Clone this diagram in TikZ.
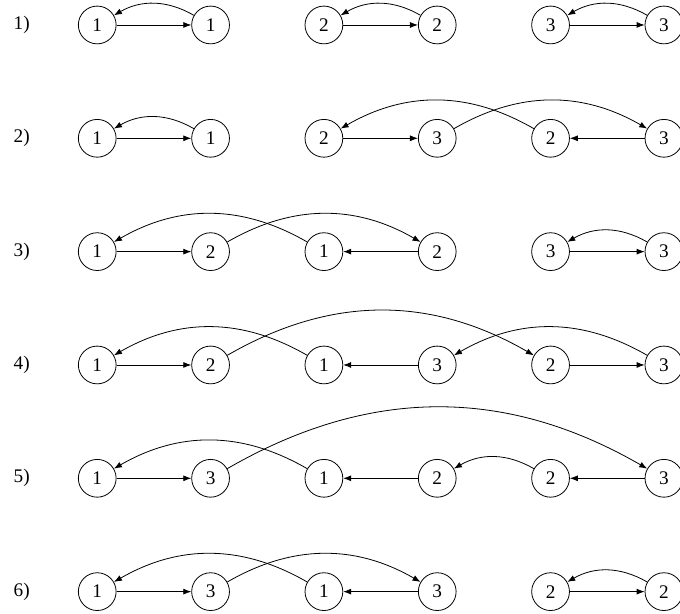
\documentclass[tikz,border=0pt]{standalone}
\usepackage{fontspec}
\setmainfont{Liberation Serif}
\usetikzlibrary{arrows.meta}

\begin{document}
\begin{tikzpicture}
	
	\tikzset{vertex/.style = {shape=circle,draw,line width=0.6pt,minimum size=1cm,inner sep=0pt,font=\fontsize{14.5}{17}\selectfont}}
	\tikzset{rowlabel/.style = {font=\fontsize{14.5}{17}\selectfont}}
	\tikzset{edge/.style = {-{Latex[length=6pt,width=4.5pt]},line width=0.6pt}}
	
	\useasboundingbox (-2.574,0.661) rectangle (15.426,-15.58);
	
	% row 1
	\node[rowlabel] (l1) at (-2,0) {1)};
	\node[vertex] (a1) at  (0,0) {1};
	\node[vertex] (a2) at  (3,0) {1};
	\node[vertex] (a3) at  (6,0) {2};
	\node[vertex] (a4) at  (9,0) {2};
	\node[vertex] (a5) at (12,0) {3};
	\node[vertex] (a6) at (15,0) {3};
	
	\draw[edge] (a1) to (a2);
	\draw[edge] (a2) to[bend right=30] (a1);
	\draw[edge] (a3) to (a4);
	\draw[edge] (a4) to[bend right=30] (a3);
	\draw[edge] (a5) to (a6);
	\draw[edge] (a6) to[bend right=30] (a5);
	
	% row 2
	\node[rowlabel] (l2) at (-2,-3) {2)};
	\node[vertex] (b1) at  (0,-3) {1};
	\node[vertex] (b2) at  (3,-3) {1};
	\node[vertex] (b3) at  (6,-3) {2};
	\node[vertex] (b4) at  (9,-3) {3};
	\node[vertex] (b5) at (12,-3) {2};
	\node[vertex] (b6) at (15,-3) {3};
	
	\draw[edge] (b1) to (b2);
	\draw[edge] (b2) to[bend right=30] (b1);
	\draw[edge] (b3) to (b4);
	\draw[edge] (b6) to (b5);
	\draw[edge] (b5) to[bend right=30] (b3);
	\draw[edge] (b4) to[bend left=30] (b6);
	
	% row 3
	\node[rowlabel] (l3) at (-2,-6) {3)};
	\node[vertex] (c1) at  (0,-6) {1};
	\node[vertex] (c2) at  (3,-6) {2};
	\node[vertex] (c3) at  (6,-6) {1};
	\node[vertex] (c4) at  (9,-6) {2};
	\node[vertex] (c5) at (12,-6) {3};
	\node[vertex] (c6) at (15,-6) {3};
	
	\draw[edge] (c1) to (c2);
	\draw[edge] (c4) to (c3);
	\draw[edge] (c3) to[bend right=30] (c1);
	\draw[edge] (c2) to[bend left=30] (c4);
	\draw[edge] (c5) to (c6);
	\draw[edge] (c6) to[bend right=30] (c5);
	
	% row 4
	\node[rowlabel] (l4) at (-2,-9) {4)};
	\node[vertex] (d1) at  (0,-9) {1};
	\node[vertex] (d2) at  (3,-9) {2};
	\node[vertex] (d3) at  (6,-9) {1};
	\node[vertex] (d4) at  (9,-9) {3};
	\node[vertex] (d5) at (12,-9) {2};
	\node[vertex] (d6) at (15,-9) {3};
	
	\draw[edge] (d1) to (d2);
	\draw[edge] (d4) to (d3);
	\draw[edge] (d5) to (d6);
	\draw[edge] (d3) to[bend right=30] (d1);
	\draw[edge] (d2) to[bend left=30] (d5);
	\draw[edge] (d6) to[bend right=30] (d4);
	
	% row 5
	\node[rowlabel] (l5) at (-2,-12) {5)};
	\node[vertex] (e1) at  (0,-12) {1};
	\node[vertex] (e2) at  (3,-12) {3};
	\node[vertex] (e3) at  (6,-12) {1};
	\node[vertex] (e4) at  (9,-12) {2};
	\node[vertex] (e5) at (12,-12) {2};
	\node[vertex] (e6) at (15,-12) {3};
	
	\draw[edge] (e1) to (e2);
	\draw[edge] (e4) to (e3);
	\draw[edge] (e6) to (e5);
	\draw[edge] (e3) to[bend right=30] (e1);
	\draw[edge] (e2) to[bend left=30] (e6);
	\draw[edge] (e5) to[bend right=30] (e4);
	
	% row 6
	\node[rowlabel] (l6) at (-2,-15) {6)};
	\node[vertex] (f1) at  (0,-15) {1};
	\node[vertex] (f2) at  (3,-15) {3};
	\node[vertex] (f3) at  (6,-15) {1};
	\node[vertex] (f4) at  (9,-15) {3};
	\node[vertex] (f5) at (12,-15) {2};
	\node[vertex] (f6) at (15,-15) {2};
	
	\draw[edge] (f1) to (f2);
	\draw[edge] (f4) to (f3);
	\draw[edge] (f3) to[bend right=30] (f1);
	\draw[edge] (f2) to[bend left=30] (f4);
	\draw[edge] (f5) to (f6);
	\draw[edge] (f6) to[bend right=30] (f5);
	
\end{tikzpicture}
\end{document}
